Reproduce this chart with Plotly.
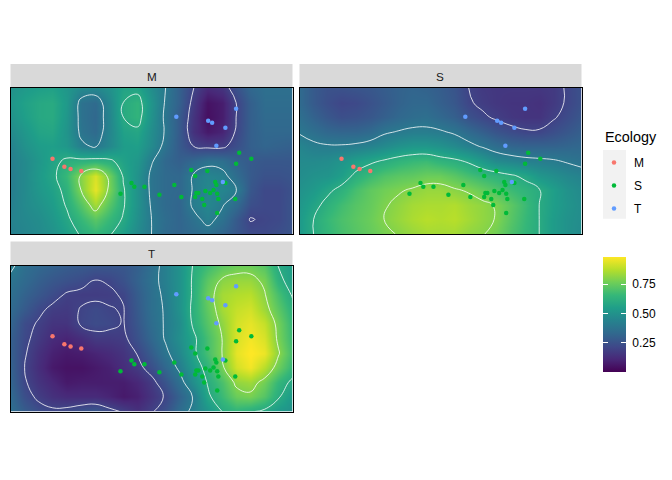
import plotly.graph_objects as go

FONT = "Liberation Sans"
W, H = 672, 480

lon = [0, 5, 10, 15, 20, 25, 30, 35, 40, 45, 50, 55, 60, 65, 70, 75, 80, 85, 90, 95, 100]
lat = [100, 90, 80, 70, 60, 50, 40, 30, 20, 10, 0]

suit_M = [
 [.50,.53,.55,.56,.52,.47,.46,.50,.57,.57,.48,.40,.30,.20,.12,.15,.25,.33,.36,.36,.36],
 [.52,.56,.59,.60,.53,.37,.34,.46,.60,.64,.51,.39,.30,.17,.05,.08,.20,.30,.35,.35,.35],
 [.50,.55,.59,.60,.52,.37,.33,.45,.60,.64,.50,.38,.28,.15,.04,.08,.20,.30,.34,.34,.34],
 [.47,.52,.57,.58,.51,.38,.34,.45,.56,.58,.48,.39,.28,.14,.07,.10,.21,.30,.33,.33,.33],
 [.44,.50,.54,.55,.52,.42,.39,.46,.54,.55,.47,.37,.28,.20,.18,.18,.24,.30,.32,.31,.30],
 [.43,.47,.52,.57,.62,.63,.64,.62,.56,.52,.41,.33,.30,.33,.37,.36,.31,.28,.27,.27,.27],
 [.42,.47,.53,.58,.66,.81,.93,.77,.59,.50,.38,.34,.33,.41,.45,.43,.35,.28,.25,.25,.26],
 [.42,.47,.52,.56,.63,.80,.95,.78,.61,.50,.38,.34,.33,.41,.46,.45,.41,.27,.22,.22,.25],
 [.43,.47,.50,.54,.61,.72,.85,.72,.61,.50,.39,.34,.32,.42,.46,.41,.34,.24,.22,.22,.26],
 [.44,.46,.48,.52,.58,.66,.73,.66,.59,.49,.40,.35,.32,.37,.43,.37,.28,.195,.21,.22,.26],
 [.43,.45,.47,.50,.55,.61,.65,.61,.55,.47,.40,.34,.32,.34,.36,.32,.27,.23,.22,.24,.26],
]
suit_S = [
 [.34,.28,.25,.25,.26,.27,.29,.31,.32,.31,.29,.26,.20,.17,.16,.16,.16,.16,.17,.21,.25],
 [.34,.28,.24,.21,.22,.25,.28,.31,.33,.33,.30,.27,.21,.18,.16,.15,.15,.14,.17,.21,.25],
 [.36,.31,.27,.24,.25,.27,.30,.33,.35,.36,.33,.30,.25,.215,.185,.16,.15,.15,.19,.23,.27],
 [.39,.36,.33,.32,.32,.34,.385,.405,.42,.42,.41,.385,.34,.30,.26,.23,.21,.21,.24,.27,.30],
 [.45,.42,.41,.41,.42,.44,.47,.50,.52,.52,.50,.47,.43,.39,.35,.32,.31,.31,.31,.32,.33],
 [.47,.47,.48,.51,.55,.58,.61,.64,.66,.67,.64,.62,.585,.53,.47,.45,.43,.42,.41,.39,.37],
 [.48,.50,.51,.55,.62,.67,.71,.73,.74,.76,.76,.73,.69,.66,.64,.61,.58,.52,.49,.46,.44],
 [.50,.53,.58,.63,.69,.74,.77,.79,.81,.83,.83,.81,.79,.75,.71,.67,.64,.605,.55,.50,.47],
 [.52,.57,.63,.68,.72,.75,.79,.82,.85,.86,.86,.87,.84,.82,.79,.73,.67,.60,.55,.51,.48],
 [.53,.60,.66,.70,.73,.76,.80,.83,.86,.88,.87,.88,.85,.82,.795,.72,.66,.60,.54,.50,.48],
 [.53,.60,.65,.69,.72,.75,.78,.805,.83,.85,.85,.85,.82,.805,.77,.70,.65,.60,.54,.50,.47],
]
suit_T = [
 [.42,.36,.33,.31,.29,.28,.27,.27,.27,.30,.36,.43,.50,.61,.67,.73,.76,.76,.72,.595,.55],
 [.38,.34,.30,.27,.25,.23,.20,.21,.25,.31,.37,.43,.50,.62,.73,.81,.83,.83,.78,.63,.55],
 [.36,.31,.27,.23,.19,.18,.18,.185,.21,.29,.36,.42,.50,.62,.76,.85,.87,.88,.81,.69,.59],
 [.34,.28,.22,.18,.17,.205,.225,.205,.195,.28,.36,.41,.50,.63,.74,.85,.90,.92,.84,.73,.63],
 [.32,.23,.19,.15,.15,.21,.23,.22,.195,.27,.35,.41,.48,.62,.72,.82,.92,.95,.90,.77,.65],
 [.30,.22,.17,.12,.10,.13,.17,.17,.18,.25,.33,.41,.49,.58,.69,.80,.93,.97,.93,.78,.66],
 [.30,.21,.14,.09,.07,.08,.10,.12,.15,.205,.29,.38,.46,.58,.69,.80,.95,.99,.96,.81,.68],
 [.31,.20,.13,.07,.05,.05,.07,.09,.13,.17,.24,.33,.42,.54,.64,.78,.92,.97,.88,.76,.65],
 [.32,.21,.15,.11,.07,.08,.08,.08,.08,.11,.17,.26,.36,.49,.61,.70,.82,.84,.77,.65,.58],
 [.34,.24,.18,.14,.12,.12,.12,.10,.07,.09,.15,.21,.31,.41,.58,.67,.76,.78,.72,.61,.53],
 [.36,.29,.24,.22,.23,.26,.28,.23,.19,.14,.19,.25,.35,.43,.51,.60,.64,.61,.58,.53,.49],
]

M_x = [14.9, 19.1, 21.3, 25.1]
M_y = [51.5, 46.0, 44.6, 43.2]
T_x = [58.8, 70.1, 71.5, 76.2, 80.0, 73.0, 75.3]
T_y = [80.3, 77.6, 76.2, 72.8, 85.8, 60.4, 35.7]
S_x = [81.1, 85.4, 80.0, 64.1, 69.8, 65.5, 72.6, 73.0, 76.2, 42.9, 43.9, 47.5, 39.0, 52.8,
       58.1, 60.6, 65.9, 66.6, 65.5, 69.1, 70.8, 72.0, 73.3, 68.0, 73.7, 79.7, 68.7, 73.3]
S_y = [55.6, 51.5, 48.1, 43.9, 43.2, 39.8, 35.7, 33.6, 35.0, 35.0, 32.3, 32.3, 27.5, 26.8,
       33.6, 25.4, 28.1, 28.1, 25.4, 29.5, 28.1, 30.2, 27.5, 24.0, 24.0, 24.0, 19.9, 14.4]

panels = ["M", "S", "T"]
surfaces = {"M": suit_M, "S": suit_S, "T": suit_T}
groups = {"M": (M_x, M_y, "#F8766D"), "S": (S_x, S_y, "#00BA38"), "T": (T_x, T_y, "#619CFF")}
boxes = {"M": (10.5, 292.5, 88, 234), "S": (299.5, 581.5, 88, 234), "T": (10.5, 292.5, 265.5, 411.5)}

fig = go.Figure()
layout = dict(
    width=W, height=H, autosize=False, margin=dict(l=0, r=0, t=0, b=0, autoexpand=False),
    paper_bgcolor="white", plot_bgcolor="white", font=dict(family=FONT, size=12, color="black"),
    shapes=[], annotations=[],
)

for i, name in enumerate(panels):
    sfx = "" if i == 0 else str(i + 1)
    x0, x1, y0, y1 = boxes[name]
    ax = dict(range=[0, 100], showgrid=False, zeroline=False, showticklabels=False, ticks="",
              showline=True, mirror=True, linecolor="black", linewidth=1.2, layer="above traces")
    layout["xaxis" + sfx] = dict(ax, domain=[x0 / W, x1 / W], anchor="y" + sfx)
    layout["yaxis" + sfx] = dict(ax, domain=[1 - y1 / H, 1 - y0 / H], anchor="x" + sfx)
    xa, ya = "x" + sfx, "y" + sfx

    hm = dict(x=lon, y=lat, z=surfaces[name], xaxis=xa, yaxis=ya, zsmooth="best",
              colorscale="Viridis", zmin=0, zmax=0.985, hoverinfo="skip", showscale=False)
    if name == "M":
        hm.update(showscale=True, colorbar=dict(
            x=603 / W, xanchor="left", y=1 - 371.7 / H, yanchor="bottom",
            lenmode="pixels", len=115, thicknessmode="pixels", thickness=23, outlinewidth=0, borderwidth=0,
            xpad=0, ypad=0, tickvals=[.25, .5, .75], ticktext=["\u00a00.25", "\u00a00.50", "\u00a00.75"], ticks="inside",
            ticklen=5, tickcolor="white", tickwidth=1, tickfont=dict(size=12, family=FONT, color="black")))
    elif name == "S":
        hm.update(showscale=True, colorbar=dict(
            x=603 / W, xanchor="left", y=1 - 371.7 / H, yanchor="bottom",
            lenmode="pixels", len=115, thicknessmode="pixels", thickness=5, outlinewidth=0, borderwidth=0,
            xpad=0, ypad=0, tickvals=[.25, .5, .75], showticklabels=False, ticks="inside",
            ticklen=5, tickcolor="white", tickwidth=1))
    fig.add_trace(go.Heatmap(**hm))
    fig.add_trace(go.Contour(x=lon, y=lat, z=surfaces[name], xaxis=xa, yaxis=ya, showscale=False, showlegend=False,
                             autocontour=False, contours=dict(start=.2, end=.8, size=.2, coloring="none"),
                             line=dict(color="rgba(255,255,255,0.8)", width=1, smoothing=1.3), hoverinfo="skip"))
    for g in panels:
        gx, gy, col = groups[g]
        fig.add_trace(go.Scatter(x=gx, y=gy, xaxis=xa, yaxis=ya, mode="markers", name=g, legendgroup=g,
                                 showlegend=i == 0, marker=dict(color=col, size=4.5, line=dict(width=0))))
    # facet strip
    strip_top = y0 - 24
    layout["shapes"].append(dict(type="rect", xref="paper", yref="paper", x0=x0 / W, x1=x1 / W,
                                 y0=1 - y0 / H, y1=1 - strip_top / H, fillcolor="#D9D9D9", line_width=0, layer="below"))
    layout["annotations"].append(dict(text=name, xref="paper", yref="paper", x=(x0 + x1) / 2 / W,
                                      y=1 - (y0 - 12) / H, xanchor="center", yanchor="middle", showarrow=False,
                                      font=dict(size=11.7, color="#1A1A1A", family=FONT)))

# legend key background and title
layout["shapes"].append(dict(type="rect", xref="paper", yref="paper", x0=603 / W, x1=626 / W,
                             y0=1 - 218.7 / H, y1=1 - 150 / H, fillcolor="#F2F2F2", line_width=0, layer="below"))
layout["annotations"].append(dict(text="Ecology", xref="paper", yref="paper", x=604 / W, y=1 - 137.5 / H,
                                  xanchor="left", yanchor="middle", showarrow=False, xshift=-1,
                                  font=dict(size=14.4, family=FONT, color="black")))
layout["legend"] = dict(x=594 / W, xanchor="left", y=1 - 148 / H, yanchor="top", bgcolor="rgba(0,0,0,0)",
                        font=dict(size=12, family=FONT, color="black"), tracegroupgap=4, itemwidth=30,
                        traceorder="grouped")
fig.update_layout(**layout)
fig.write_html("out.html", config=dict(displayModeBar=False), post_script="document.body.style.margin='0';")
